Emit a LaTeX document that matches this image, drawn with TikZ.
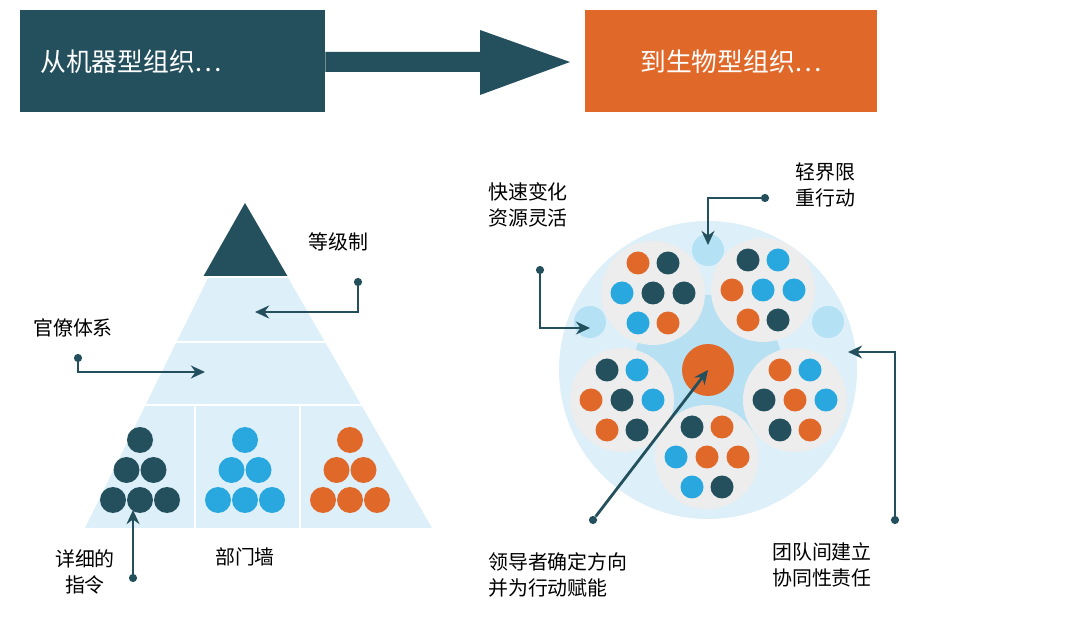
\documentclass[tikz,border=0pt]{standalone}
\usepackage{fontspec}
\setmainfont{Noto Sans CJK SC}
\usetikzlibrary{arrows.meta,positioning}
\definecolor{dk}{HTML}{24505E}
\definecolor{og}{HTML}{E0692A}
\definecolor{bl}{HTML}{29A8E0}
\definecolor{pale}{HTML}{DDEFF8}
\definecolor{pod}{HTML}{EDEDED}

\newlength\unitpx \setlength\unitpx{0.03cm}
\tikzset{
  dot/.style={circle,inner sep=0pt,minimum size=23\unitpx},
  lbl/.style={font=\fontsize{17}{22}\selectfont,align=left,inner sep=0pt},
  head/.style={text=white,font=\fontsize{22}{26}\selectfont,minimum height=102\unitpx,anchor=north west},
  lead/.style={line width=2.4pt,draw=dk,-{Stealth[length=12pt,width=11pt]}},
  pin/.style={circle,fill=dk,inner sep=0pt,minimum size=7pt}
}

\begin{document}
\begin{tikzpicture}[x=0.03cm,y=-0.03cm]
  \useasboundingbox (0,0) rectangle (1080,628);
  \fill[white] (0,0) rectangle (1080,628);

  % header
  \node[head,fill=dk,minimum width=305\unitpx,text width=265\unitpx] (mech) at (20,10) {从机器型组织…};
  \node[head,fill=og,minimum width=292\unitpx] (bio) at (585,10) {到生物型组织…};
  \fill[dk] (mech.east |- 0,52) -- (480,52) -- (480,30) -- (570,62) -- (480,95) -- (480,72) -- (mech.east |- 0,72) -- cycle;

  % pyramid
  \fill[pale] (245,203) -- (432,528) -- (85,528) -- cycle;
  \fill[dk] (245,203) -- (288,277) -- (203,277) -- cycle;
  \draw[white,line width=1.5pt] (150,277) -- (340,277) (110,342) -- (380,342) (60,405) -- (430,405)
    (195,405) -- (195,528) (300,405) -- (300,528);
  \foreach \cx/\c in {140/dk,245/bl,350/og}{
    \node[dot,fill=\c,minimum size=26\unitpx] at (\cx,440) {};
    \foreach \dx in {-13.5,13.5} \node[dot,fill=\c,minimum size=26\unitpx] at (\cx+\dx,470) {};
    \foreach \dx in {-27,0,27} \node[dot,fill=\c,minimum size=26\unitpx] at (\cx+\dx,500) {};
  }

  % organism
  \node[circle,fill=pale,minimum size=298\unitpx,inner sep=0pt] (org) at (708,370) {};
  \node[circle,fill=bl!45,minimum size=150\unitpx,inner sep=0pt,opacity=0.6] at (708,370) {};
  \foreach \bx/\by in {708/250,590/322,828/322}
    \node[circle,fill=bl!35,minimum size=32\unitpx,inner sep=0pt] at (\bx,\by) {};
  \foreach \n/\px/\py/\cs in {
      tl/653/293/{og,dk,bl,dk,dk,bl,og},
      tr/763/290/{dk,bl,og,bl,bl,og,dk},
      lf/622/400/{dk,bl,og,dk,bl,og,dk},
      rt/795/400/{og,bl,dk,og,bl,dk,og},
      bt/707/457/{dk,og,bl,og,og,bl,dk}}{
    \node[circle,fill=pod,minimum size=104\unitpx,inner sep=0pt] (\n) at (\px,\py) {};
    \foreach \c [count=\i] in \cs {
      \pgfmathsetmacro\dx{{-15,15,-31,0,31,-15,15}[\i-1]}
      \pgfmathsetmacro\dy{{-30,-30,0,0,0,30,30}[\i-1]}
      \node[dot,fill=\c] at (\px+\dx,\py+\dy) {};
    }
  }
  \node[circle,fill=og,minimum size=52\unitpx,inner sep=0pt] (core) at (708,370) {};

  % labels
  \node[lbl,anchor=west] (hier) at (308,242) {等级制};
  \node[lbl,anchor=west] (bur) at (33,328) {官僚体系};
  \node[lbl,align=center] (instr) at (85,572) {详细的\\指令};
  \node[lbl] (walls) at (245,557) {部门墙};
  \node[lbl,anchor=west] (fast) at (488,205) {快速变化\\资源灵活};
  \node[lbl,anchor=west] (light) at (795,185) {轻界限\\重行动};
  \node[lbl,anchor=west] (lead) at (488,575) {领导者确定方向\\并为行动赋能};
  \node[lbl,anchor=west] (team) at (772,565) {团队间建立\\协同性责任};

  % connectors
  \node[pin] (p1) at (358,282) {};
  \coordinate (e1) at (255,312);
  \draw[lead] (p1) |- (e1);
  \node[pin] (p2) at (78,358) {};
  \coordinate (e2) at (205,372);
  \draw[lead] (p2) |- (e2);
  \node[pin] (p3) at (133,578) {};
  \coordinate (e3) at (133,510);
  \draw[lead] (p3) -- (e3);
  \node[pin] (p4) at (540,270) {};
  \coordinate (e4) at (590,328);
  \draw[lead] (p4) |- (e4);
  \node[pin] (p5) at (765,198) {};
  \coordinate (e5) at (708,245);
  \draw[lead] (p5) -| (e5);
  \node[pin] (p6) at (895,520) {};
  \coordinate (e6) at (848,352);
  \draw[lead] (p6) |- (e6);
  \node[pin] (p7) at (593,520) {};
  \draw[lead] (p7) -- (core.center);
\end{tikzpicture}
\end{document}
